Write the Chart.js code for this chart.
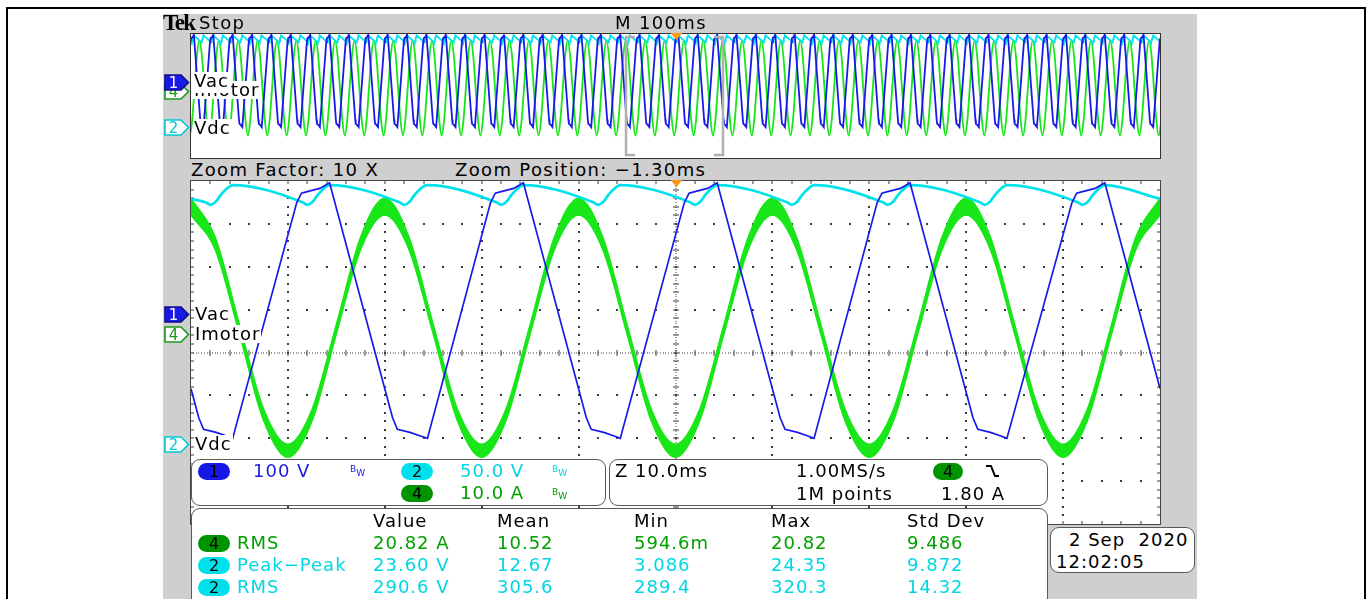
<!DOCTYPE html>
<html><head><meta charset="utf-8">
<script src="https://cdn.jsdelivr.net/npm/chart.js@4.4.1/dist/chart.umd.min.js"></script>
<style>
html,body{margin:0;padding:0;background:#fff;width:1370px;height:599px;overflow:hidden;position:relative;}
#frame{position:absolute;left:6px;top:7px;width:1356px;height:600px;border:2px solid #000;border-bottom:none;}
#gray{position:absolute;left:163px;top:14px;width:1034px;height:600px;background:#cfcfcf;}
canvas{position:absolute;}
.t{position:absolute;white-space:pre;font-family:'DejaVu Sans',sans-serif;font-size:18px;line-height:18px;letter-spacing:1px;color:#000;}
.hd{letter-spacing:1.35px;}
.lbl{background:#fff;padding:0 1px 0 1px;}
.panel{position:absolute;background:#fff;border:1.5px solid #5a5a5a;border-radius:9px;box-sizing:border-box;}
.pill{position:absolute;width:32px;height:17px;border-radius:9px;text-align:center;font-family:'DejaVu Sans',sans-serif;font-size:16px;line-height:17px;color:#000;}
.bw{position:absolute;font-family:'DejaVu Sans',sans-serif;font-size:9px;line-height:9px;}
.bw sub{font-size:9px;vertical-align:-4px;}
svg{position:absolute;overflow:visible;}
</style></head>
<body>
<div id="frame"></div>
<div id="gray"></div>
<canvas id="ov" width="971" height="126" style="left:190px;top:33px;width:971px;height:126px"></canvas>
<canvas id="main" width="971" height="345" style="left:190px;top:180px;width:971px;height:345px"></canvas>
<div id="overlay"></div>
<script>
// ---------------- DATA ----------------
// Zoomed window: time in ms (0..100 = 10 div x 10.0 ms)
const vacT = [0,0.8,1.3,2.6,3.6,4.3, 10.9,11.4,11.9,13.3,14.3, 20.8,21.3,22.6,23.6,24.4,
  30.9,31.4,31.9,33.3,34.3, 40.8,41.3,42.6,43.6,44.3, 50.9,51.4,51.9,53.3,54.3,
  60.8,61.3,62.6,63.6,64.3, 70.8,71.3,71.8,73.2,74.2, 80.7,81.2,82.5,83.5,84.2,
  90.9,91.4,91.9,93.3,94.3, 100];
const vacV = [-182,-250,-277,-284,-292,-298, 251,274,277,285,298, -250,-277,-284,-292,-298,
  251,274,277,285,298, -250,-277,-284,-292,-298, 251,274,277,285,298,
  -250,-277,-284,-292,-298, 251,274,277,285,298, -250,-277,-284,-292,-298,
  251,274,277,285,298, -182];

const vdcT = [0,1.5,2.0,2.5,3.1,3.6,4.0,4.3, 11.5,12.0,12.5,13.1,13.6,14.0,14.3,
  21.5,22.0,22.5,23.1,23.6,24.0,24.4, 31.5,32.0,32.5,33.1,33.6,34.0,34.3,
  41.5,42.0,42.5,43.1,43.6,44.0,44.3, 51.5,52.0,52.5,53.1,53.6,54.0,54.3,
  61.5,62.0,62.5,63.1,63.6,64.0,64.3, 71.4,71.9,72.4,73.0,73.5,73.9,74.2,
  81.4,81.9,82.4,83.0,83.5,83.9,84.2, 91.5,92.0,92.5,93.1,93.6,94.0,94.3, 100];
const vdcV = [285,281,278,281,290,296,299.5,301, 281,278,281,290,296,299.5,301,
  281,278,281,290,296,299.5,301, 281,278,281,290,296,299.5,301,
  281,278,281,290,296,299.5,301, 281,278,281,290,296,299.5,301,
  281,278,281,290,296,299.5,301, 281,278,281,290,296,299.5,301,
  281,278,281,290,296,299.5,301, 281,278,281,290,296,299.5,301, 285];

// Imotor: upper / lower edge of the ripple band
const imT = [0,2.5,5,7.5,10,12.5,15,17.5,20,22.5,25,27.5,30,32.5,35,37.5,40,42.5,45,47.5,
  50,52.5,55,57.5,60,62.5,65,67.5,70,72.5,75,77.5,80,82.5,85,87.5,90,92.5,95,97.5,100];
const imHi = [31.6,22.5,2.2,-17.6,-25.8,-17.6,2.2,22.5, 31.6,22.5,2.2,-17.6,-25.8,-17.6,2.2,22.5,
  31.6,22.5,2.2,-17.6,-25.8,-17.6,2.2,22.5, 31.6,22.5,2.2,-17.6,-25.8,-17.6,2.2,22.5,
  31.6,22.5,2.2,-17.6,-25.8,-17.6,2.2,22.5, 31.6];
const imLo = [27.6,19.5,-0.2,-20.4,-28.9,-20.4,-0.2,19.5, 27.6,19.5,-0.2,-20.4,-28.9,-20.4,-0.2,19.5,
  27.6,19.5,-0.2,-20.4,-28.9,-20.4,-0.2,19.5, 27.6,19.5,-0.2,-20.4,-28.9,-20.4,-0.2,19.5,
  27.6,19.5,-0.2,-20.4,-28.9,-20.4,-0.2,19.5, 27.6];

// Overview (M 100ms/div -> 0..1000 ms): cycle start times (Vac minimum corners) and one read cycle shape
const ovCycleStarts = [-7,13,33,53,73,93,113,133,153,173,193,213,233,253,273,293,313,333,353,373,
  393,413,433,453,473,493,513,533,553,573,593,613,633,653,673,693,713,733,753,773,
  793,813,833,853,873,893,913,933,953,973,993];
const ovVacDt = [0,6.6,7.1,7.6,9.0,10,16.5,17.0,18.3,19.3];
const ovVacV  = [-298,251,274,277,285,298,-250,-277,-284,-292];
const ovVdcDt = [0,7.2,7.7,8.2,8.8,9.3,9.7,10,17.2,17.7,18.2,18.8,19.3,19.7];
const ovVdcV  = [301,281,278,281,290,296,299.5,301,281,278,281,290,296,299.5];
const ovImDt  = [0.7,3.2,5.7,8.2,10.7,13.2,15.7,18.2];
const ovImV   = [1,-20,-30,-20,1,22,31.5,22];

// Zoom window in overview time (ms)
const zoomWin = [448.7, 548.7];

// Channel scales: [min,max] so that each channel's ground sits at its marker (8 divisions)
const ch1Range = [-497.7, 302.3];   // 100 V/div
const ch2Range = [-94.2, 305.8];    // 50.0 V/div
const ch4Range = [-44.42, 35.58];   // 10.0 A/div

// ---------------- RENDER ----------------
const BLUE = '#1a1ae8', CYAN = '#00e2ec', GREEN = '#18e618';
const pts = (xs, ys) => xs.map((x, i) => ({x, y: ys[i]}));
function tile(starts, dt, v) {
  const out = [];
  for (const s of starts) for (let i = 0; i < dt.length; i++) out.push({x: s + dt[i], y: v[i]});
  return out;
}

const frameBorder = (chart, color, w) => {
  const {ctx, chartArea: a} = chart;
  ctx.save(); ctx.strokeStyle = color; ctx.lineWidth = w;
  ctx.strokeRect(a.left - w / 2, a.top - w / 2, a.right - a.left + w, a.bottom - a.top + w);
  ctx.restore();
};
const trigger = (chart, x) => {
  const {ctx, chartArea: a} = chart;
  ctx.save(); ctx.fillStyle = '#f59a1a';
  ctx.beginPath(); ctx.moveTo(x - 6, a.top - 1); ctx.lineTo(x + 6, a.top - 1); ctx.lineTo(x, a.top + 6); ctx.closePath(); ctx.fill();
  ctx.restore();
};

const mainDecor = {
  id: 'mainDecor',
  beforeDraw(chart) {
    const {ctx, width, height} = chart;
    ctx.save(); ctx.fillStyle = '#fff'; ctx.fillRect(0, 0, width, height); ctx.restore();
  },
  beforeDatasetsDraw(chart) {
    const {ctx, chartArea: a} = chart;
    const L = a.left, T = a.top, W = a.right - a.left, H = a.bottom - a.top;
    const R = Math.round;
    ctx.save(); ctx.fillStyle = '#3c3c3c';
    for (let i = 1; i < 10; i++) { if (i === 5) continue; const x = R(L + i * W / 10);
      for (let k = 1; k < 40; k++) ctx.fillRect(x - 1, R(T + k * H / 40) - 1, 2, 2); }
    for (let j = 1; j < 8; j++) { if (j === 4) continue; const y = R(T + j * H / 8);
      for (let k = 1; k < 50; k++) ctx.fillRect(R(L + k * W / 50) - 1, y - 1, 2, 2); }
    const cx = R(L + W / 2), cy = R(T + H / 2);
    for (let y = T + 2; y < a.bottom; y += 2.7) ctx.fillRect(cx - 0.5, R(y), 1, 1);
    for (let x = L + 2; x < a.right; x += 2.7) ctx.fillRect(R(x), cy - 0.5, 1, 1);
    for (let k = 1; k < 40; k++) ctx.fillRect(cx - 3, R(T + k * H / 40) - 0.5, 6, 1);
    for (let k = 1; k < 50; k++) ctx.fillRect(R(L + k * W / 50) - 0.5, cy - 3, 1, 6);
    for (let k = 1; k < 50; k++) { const x = R(L + k * W / 50);
      ctx.fillRect(x - 0.5, T, 1, 3); ctx.fillRect(x - 0.5, a.bottom - 3, 1, 3); }
    for (let k = 1; k < 40; k++) { const y = R(T + k * H / 40);
      ctx.fillRect(L, y - 0.5, 3, 1); ctx.fillRect(a.right - 3, y - 0.5, 3, 1); }
    ctx.restore();
  },
  afterDraw(chart) {
    frameBorder(chart, '#444', 1.5);
    trigger(chart, chart.scales.x.getPixelForValue(50.1));
  }
};

const ovDecor = {
  id: 'ovDecor',
  beforeDraw(chart) {
    const {ctx, width, height} = chart;
    ctx.save(); ctx.fillStyle = '#fff'; ctx.fillRect(0, 0, width, height); ctx.restore();
  },
  afterDatasetsDraw(chart) {
    const {ctx, chartArea: a, scales: {x}} = chart;
    ctx.save(); ctx.strokeStyle = '#b0b0b0'; ctx.lineWidth = 2.5;
    const x0 = Math.round(x.getPixelForValue(zoomWin[0])), x1 = Math.round(x.getPixelForValue(zoomWin[1]));
    const y0 = a.top + 3, y1 = a.bottom - 3;
    ctx.beginPath(); ctx.moveTo(x0 + 9, y0); ctx.lineTo(x0, y0); ctx.lineTo(x0, y1); ctx.lineTo(x0 + 9, y1); ctx.stroke();
    ctx.beginPath(); ctx.moveTo(x1 - 9, y0); ctx.lineTo(x1, y0); ctx.lineTo(x1, y1); ctx.lineTo(x1 - 9, y1); ctx.stroke();
    ctx.restore();
  },
  afterDraw(chart) {
    frameBorder(chart, '#333', 2);
    trigger(chart, chart.scales.x.getPixelForValue(501));
  }
};

const hiddenScales = (xmax) => ({
  x: {type: 'linear', min: 0, max: xmax, display: false},
  y1: {type: 'linear', min: ch1Range[0], max: ch1Range[1], display: false},
  y2: {type: 'linear', min: ch2Range[0], max: ch2Range[1], display: false},
  y4: {type: 'linear', min: ch4Range[0], max: ch4Range[1], display: false}
});
const baseOpts = (xmax) => ({
  responsive: false, maintainAspectRatio: false, animation: false, devicePixelRatio: 1,
  layout: {padding: 1},
  plugins: {legend: {display: false}, tooltip: {enabled: false}},
  elements: {point: {radius: 0}},
  scales: hiddenScales(xmax)
});

new Chart(document.getElementById('main'), {
  type: 'line',
  data: {datasets: [
    {label: 'Vac', data: pts(vacT, vacV), yAxisID: 'y1', borderColor: BLUE, borderWidth: 1.7, tension: 0, order: 1, fill: false},
    {label: 'Vdc', data: pts(vdcT, vdcV), yAxisID: 'y2', borderColor: CYAN, borderWidth: 2.7, cubicInterpolationMode: 'monotone', order: 2, fill: false},
    {label: 'Imotor max', data: pts(imT, imHi), yAxisID: 'y4', borderColor: GREEN, borderWidth: 1.3, cubicInterpolationMode: 'monotone', order: 3, fill: false},
    {label: 'Imotor min', data: pts(imT, imLo), yAxisID: 'y4', borderColor: GREEN, borderWidth: 1.3, cubicInterpolationMode: 'monotone', order: 4, fill: '-1', backgroundColor: GREEN}
  ]},
  options: baseOpts(100),
  plugins: [mainDecor]
});

new Chart(document.getElementById('ov'), {
  type: 'line',
  data: {datasets: [
    {label: 'Vac', data: tile(ovCycleStarts, ovVacDt, ovVacV), yAxisID: 'y1', borderColor: BLUE, borderWidth: 1.8, tension: 0, order: 1, fill: false},
    {label: 'Vdc', data: tile(ovCycleStarts, ovVdcDt, ovVdcV), yAxisID: 'y2', borderColor: CYAN, borderWidth: 1.8, tension: 0, order: 2, fill: false},
    {label: 'Imotor', data: tile(ovCycleStarts, ovImDt, ovImV), yAxisID: 'y4', borderColor: GREEN, borderWidth: 1.8, cubicInterpolationMode: 'monotone', order: 3, fill: false}
  ]},
  options: baseOpts(1000),
  plugins: [ovDecor]
});

// ---------------- TEXT / ANNOTATION LAYER ----------------
const ov = document.getElementById('overlay');
function add(html) { ov.insertAdjacentHTML('beforeend', html); }
function T(x, yc, s, color, extra, cls) {
  add(`<div class="t ${cls || ''}" style="left:${x}px;top:${yc - 9}px;color:${color || '#000'};${extra || ''}">${s}</div>`);
}
function L(x, yc, s, extra) { add(`<div class="t lbl" style="left:${x}px;top:${yc - 9}px;${extra || ''}">${s}</div>`); }
function panel(x, y, w, h) { add(`<div class="panel" style="left:${x}px;top:${y}px;width:${w}px;height:${h}px"></div>`); }
function pill(x, yc, n, bg, w) { add(`<div class="pill" style="left:${x}px;top:${yc - 8.5}px;width:${w || 32}px;background:${bg}">${n}</div>`); }
function bw(x, yc, color) { add(`<div class="bw" style="left:${x}px;top:${yc - 6}px;color:${color}">B<sub>W</sub></div>`); }
function marker(x, yTop, n, fill, stroke, tc) {
  add(`<svg style="left:${x}px;top:${yTop}px" width="27" height="17" viewBox="0 0 27 17">
    <path d="M1,1 H17 L24.5,8.5 L17,16 H1 Z" fill="${fill}" stroke="${stroke}" stroke-width="1.6"/>
    <text x="9.5" y="14" text-anchor="middle" font-family="DejaVu Sans" font-size="15" fill="${tc}">${n}</text></svg>`);
}

// header
add(`<div style="position:absolute;left:163px;top:11px;font-family:'Liberation Serif',serif;font-weight:bold;font-size:23px;line-height:23px;letter-spacing:-1.6px;color:#000;white-space:pre;">Tek</div>`);
T(199, 23, 'Stop', null, null, 'hd');
T(615, 23, 'M 100ms', null, null, 'hd');
T(191, 170, 'Zoom Factor: 10 X', null, null, 'hd');
T(455, 170, 'Zoom Position: \u22121.30ms', null, null, 'hd');

// overview channel markers & labels
marker(164, 83, '4', '#fff', '#1a9a1a', '#1a9a1a');
marker(164, 74, '1', BLUE, '#10108a', '#fff');
marker(164, 119, '2', '#fff', '#00c8d8', '#00c8d8');
L(193, 90, 'Imotor');
L(193, 81, 'Vac', 'padding-bottom:3px;');
L(193, 128, 'Vdc');

// main channel markers & labels
marker(164, 306, '1', BLUE, '#10108a', '#fff');
marker(164, 326, '4', '#fff', '#1a9a1a', '#1a9a1a');
marker(164, 436, '2', '#fff', '#00c8d8', '#00c8d8');
L(194, 314, 'Vac');
L(194, 334, 'Imotor');
L(194, 444, 'Vdc');

// panel 1: vertical settings
panel(191, 459, 415, 47);
pill(198, 471, '1', '#1616e6');
T(253, 471, '100 V', '#1a1ae0');
bw(350, 471, '#1a1ae0');
pill(401, 471, '2', '#00e0ea');
T(460, 471, '50.0 V', '#00d6e4');
bw(552, 471, '#00d6e4');
pill(401, 493, '4', '#009400');
T(460, 493, '10.0 A', '#00a000');
bw(552, 494, '#00a000');

// panel 2: horizontal / trigger
panel(609, 459, 439, 47);
T(615, 471, 'Z 10.0ms');
T(796, 471, '1.00MS/s');
pill(933, 471, '4', '#009400', 30);
add(`<svg style="left:985px;top:464px" width="15" height="14"><polyline points="1,2 6,2 10,12 14,12" fill="none" stroke="#000" stroke-width="2"/></svg>`);
T(796, 494, '1M points');
T(941, 494, '1.80 A');

// panel 3: measurements
panel(191, 508, 857, 100);
const colX = [373, 497, 634, 771, 907];
const header = ['Value', 'Mean', 'Min', 'Max', 'Std Dev'];
header.forEach((h, i) => T(colX[i], 521, h));
const rows = [
  {n: '4', bg: '#009400', name: 'RMS', c: '#00a000', v: ['20.82 A', '10.52', '594.6m', '20.82', '9.486']},
  {n: '2', bg: '#00e0ea', name: 'Peak\u2212Peak', c: '#00d6e4', v: ['23.60 V', '12.67', '3.086', '24.35', '9.872']},
  {n: '2', bg: '#00e0ea', name: 'RMS', c: '#00d6e4', v: ['290.6 V', '305.6', '289.4', '320.3', '14.32']}
];
rows.forEach((r, j) => {
  const yc = 543 + j * 22;
  pill(198, yc, r.n, r.bg);
  T(237, yc, r.name, r.c);
  r.v.forEach((s, i) => T(colX[i], yc, s, r.c));
});

// date box
panel(1050, 527, 145, 46);
T(1069, 540, '2 Sep  2020');
T(1056, 562, '12:02:05');
</script>
</body></html>
